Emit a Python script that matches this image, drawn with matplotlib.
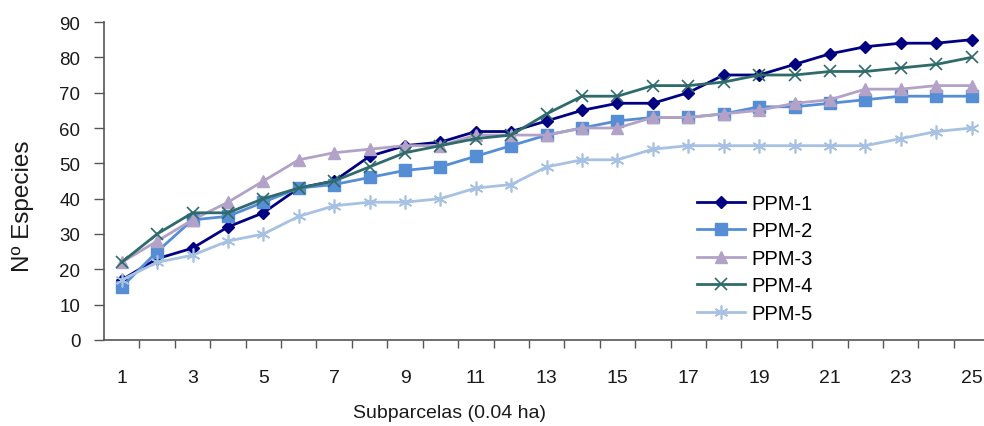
import matplotlib
matplotlib.use("Agg")
import matplotlib.pyplot as plt
from matplotlib.ticker import FixedLocator, NullFormatter

plt.rcParams["font.family"] = ["Liberation Sans", "DejaVu Sans"]

subparcelas = list(range(1, 26))
ppm1 = [17, 23, 26, 32, 36, 43, 45, 52, 55, 56, 59, 59, 62, 65, 67, 67, 70, 75, 75, 78, 81, 83, 84, 84, 85]
ppm2 = [15, 25, 34, 35, 39, 43, 44, 46, 48, 49, 52, 55, 58, 60, 62, 63, 63, 64, 66, 66, 67, 68, 69, 69, 69]
ppm3 = [22, 28, 34, 39, 45, 51, 53, 54, 55, 55, 58, 58, 58, 60, 60, 63, 63, 64, 65, 67, 68, 71, 71, 72, 72]
ppm4 = [22, 30, 36, 36, 40, 43, 45, 49, 53, 55, 57, 58, 64, 69, 69, 72, 72, 73, 75, 75, 76, 76, 77, 78, 80]
ppm5 = [17, 22, 24, 28, 30, 35, 38, 39, 39, 40, 43, 44, 49, 51, 51, 54, 55, 55, 55, 55, 55, 55, 57, 59, 60]
labels = ["PPM-1", "PPM-2", "PPM-3", "PPM-4", "PPM-5"]

C_TEXT = "#1a1a1a"
C_AXIS = "#555555"

fig = plt.figure(figsize=(9.84, 4.27), dpi=100)
ax = fig.add_axes([104 / 984, 1 - 341 / 427, 880 / 984, 318 / 427])

styles = [
    dict(color="#000080", marker="D", ms=6),
    dict(color="#558ED5", marker="s", ms=8),
    dict(color="#B3A2C7", marker="^", ms=8.5),
    dict(color="#2F6B6A", marker="x", ms=9, mew=1.2),
    dict(color="#A7C1E2", marker=(6, 2, 0), ms=10, mew=1.2),
]
for vals, lab, st in zip([ppm1, ppm2, ppm3, ppm4, ppm5], labels, styles):
    ax.plot(subparcelas, vals, lw=2, label=lab, **st)

ax.set_xlim(0.5, 25.35)
ax.set_ylim(0, 90)
ax.set_yticks(range(0, 91, 10))
ax.xaxis.set_major_locator(FixedLocator(list(range(1, 26, 2))))
ax.xaxis.set_minor_locator(FixedLocator([i + 0.5 for i in range(1, 25)]))
ax.xaxis.set_minor_formatter(NullFormatter())
ax.tick_params(axis="x", which="major", length=0, pad=21, labelsize=14, colors=C_TEXT)
ax.tick_params(axis="x", which="minor", length=6, width=1, color=C_AXIS)
ax.tick_params(axis="y", length=7, width=1, color=C_AXIS, labelsize=13.5, labelcolor=C_TEXT, pad=10)

for side in ["top", "right"]:
    ax.spines[side].set_visible(False)
for side in ["left", "bottom"]:
    ax.spines[side].set_color(C_AXIS)
    ax.spines[side].set_linewidth(1.2)

ax.set_ylabel("Nº Especies", fontsize=17.5, color=C_TEXT)
ax.yaxis.set_label_coords(-0.092, (341 - 206) / 318)
ax.yaxis.label.set_va("center")
ax.set_xlabel("Subparcelas (0.04 ha)", fontsize=14, color=C_TEXT)
ax.xaxis.set_label_coords(0.393, -0.2)

ax.legend(loc="upper left", bbox_to_anchor=(593 / 880, (341 - 195) / 318), frameon=False,
          fontsize=14.5, handlelength=2.4, handletextpad=0.3, labelspacing=0.42,
          borderpad=0, borderaxespad=0)

fig.savefig("out.png", dpi=100)
